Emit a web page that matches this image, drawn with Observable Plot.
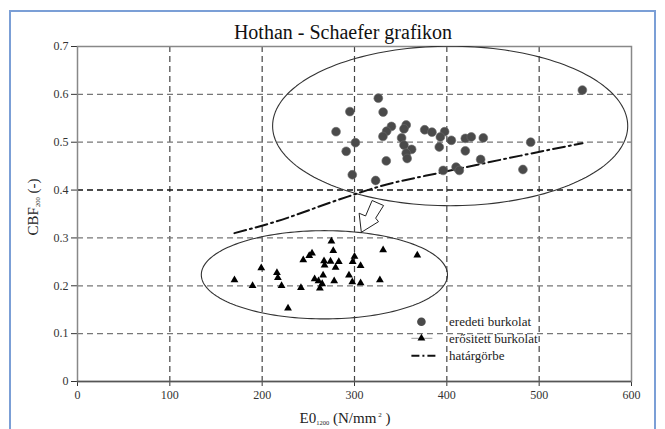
<!DOCTYPE html>
<html><head><meta charset="utf-8">
<script src="https://cdn.jsdelivr.net/npm/d3@7"></script>
<script src="https://cdn.jsdelivr.net/npm/@observablehq/plot@0.6"></script>
<style>
body{margin:0;background:#fff;}
#wrap{position:relative;width:665px;height:429px;overflow:hidden;background:#fff;}
#border{position:absolute;left:9px;top:10px;width:647px;height:440px;border:2px solid #7b9fd6;border-bottom:none;box-sizing:border-box;pointer-events:none;}
#chart svg text{font-family:'Liberation Serif','Times New Roman',serif !important;}
</style></head><body>
<div id="wrap"><div id="chart"></div><div id="border"></div></div>
<script>
// ---- data ----
const eredetiX = [325.8, 295, 331, 280, 340, 334.8, 330.8, 356, 353.6, 376, 383.9, 397.6, 393, 404.9, 420, 426.5, 439.5, 301, 291, 351, 353.6, 361.9, 356, 357, 334.4, 391.8, 420, 436.6, 297.6, 322.9, 396, 410, 413.5, 546.8, 490.8, 482.4];
const eredetiY = [0.592, 0.564, 0.563, 0.522, 0.533, 0.523, 0.512, 0.536, 0.528, 0.526, 0.521, 0.522, 0.511, 0.504, 0.508, 0.511, 0.509, 0.499, 0.481, 0.509, 0.494, 0.485, 0.477, 0.466, 0.461, 0.490, 0.482, 0.464, 0.432, 0.420, 0.441, 0.448, 0.441, 0.609, 0.500, 0.443];
const erositettX = [275, 277, 254, 251, 244.5, 331, 368, 267, 274, 283, 279.5, 267.6, 300, 298, 306.6, 199, 216, 217, 221, 170, 189.6, 242, 256.8, 261, 266, 265, 262.5, 278, 294, 297.6, 306.6, 327.5, 228];
const erositettY = [0.293, 0.273, 0.268, 0.263, 0.254, 0.275, 0.264, 0.252, 0.251, 0.250, 0.238, 0.243, 0.261, 0.250, 0.242, 0.237, 0.227, 0.217, 0.200, 0.212, 0.200, 0.196, 0.214, 0.210, 0.222, 0.204, 0.195, 0.210, 0.222, 0.208, 0.206, 0.212, 0.153];
const hatarX = [170, 213, 283, 328, 397, 480, 547];
const hatarY = [0.31, 0.333, 0.38, 0.408, 0.438, 0.472, 0.498];
// annotation shapes (data units)
const ellipseCx = [403.6, 267.4];
const ellipseCy = [0.534, 0.223];
const ellipseRx = [192.3, 133.3];
const ellipseRy = [0.1667, 0.0922];
const arrowX = [307.4, 305, 312, 319.1, 331.5, 322.9, 326, 307.4];
const arrowY = [0.3117, 0.3516, 0.3459, 0.3782, 0.3677, 0.3413, 0.334, 0.3117];
// ticks & labels
const xTicks = [0, 100, 200, 300, 400, 500, 600];
const yTicks = [0, 0.1, 0.2, 0.3, 0.4, 0.5, 0.6, 0.7];
const gridXv = [100, 200, 300, 400, 500];
const gridYv = [0.1, 0.2, 0.3, 0.5, 0.6];
const titleText = "Hothan - Schaefer grafikon";
const legendLabels = ["eredeti burkolat", "erősitett burkolat", "határgörbe"];

const eredeti = eredetiX.map((x, i) => ({x, y: eredetiY[i]}));
const erositett = erositettX.map((x, i) => ({x, y: erositettY[i]}));
const hatar = hatarX.map((x, i) => ({x, y: hatarY[i]}));
const arrow = arrowX.map((x, i) => ({x, y: arrowY[i]}));
const ellipses = [];
ellipseCx.forEach((cx, k) => {
  for (let j = 0; j <= 180; j++) {
    const t = j / 180 * 2 * Math.PI;
    ellipses.push({k, x: cx + ellipseRx[k] * Math.cos(t), y: ellipseCy[k] + ellipseRy[k] * Math.sin(t)});
  }
});

const serif = "'Liberation Serif', 'Times New Roman', serif";
const plot = Plot.plot({
  width: 665, height: 429,
  marginLeft: 77, marginRight: 34, marginTop: 46, marginBottom: 48,
  style: {fontFamily: serif, fontSize: "12px", color: "#333", background: "transparent"},
  x: {domain: [0, 600], ticks: xTicks, tickSize: 5, tickPadding: 4, label: null},
  y: {domain: [0, 0.7], ticks: yTicks, tickSize: 6, tickPadding: 3, tickFormat: d => d === 0 ? "0" : d.toFixed(1), label: null},
  marks: [
    Plot.ruleX(gridXv, {stroke: "#444", strokeDasharray: "6,4", strokeWidth: 1.2}),
    Plot.ruleY(gridYv, {stroke: "#777", strokeDasharray: "6,4", strokeWidth: 1.2}),
    Plot.ruleY([0.4], {stroke: "#111", strokeDasharray: "6,4", strokeWidth: 1.4}),
    Plot.frame({stroke: "#888", strokeWidth: 1.5}),
    Plot.ruleY([0], {stroke: "#555", strokeWidth: 1.5}),
    Plot.line(ellipses, {x: "x", y: "y", z: "k", stroke: "#333", strokeWidth: 1.1, clip: true}),
    Plot.line(hatar, {x: "x", y: "y", stroke: "#111", strokeWidth: 2, strokeDasharray: "12,4,2,4", curve: "monotone-x"}),
    Plot.line(arrow, {x: "x", y: "y", stroke: "#222", strokeWidth: 1, fill: "#fff"}),
    Plot.dot(eredeti, {x: "x", y: "y", r: 4.4, fill: "#4a4a4a", stroke: "#6a6a6a", strokeWidth: 0.6}),
    Plot.dot(erositett, {x: "x", y: "y", r: 2.9, symbol: "triangle", fill: "#000"})
  ]
});
document.getElementById("chart").appendChild(plot);

const svg = d3.select(plot);
const sx = plot.scale("x");
// title
svg.append("text").attr("x", 343).attr("y", 38.5).attr("text-anchor", "middle")
  .attr("font-size", 20).attr("fill", "#111").text(titleText);
// x label
const xl = svg.append("text").attr("x", 345).attr("y", 423).attr("text-anchor", "middle")
  .attr("font-size", 15).attr("fill", "#222");
xl.append("tspan").text("E0");
xl.append("tspan").attr("font-size", 6.5).attr("dy", 2).text("1200");
xl.append("tspan").attr("dy", -2).text(" (N/mm");
xl.append("tspan").attr("font-size", 7).attr("dy", -6).text(" 2");
xl.append("tspan").attr("dy", 6).text(" )");
// y label
const yl = svg.append("text").attr("transform", "translate(38,207) rotate(-90)").attr("text-anchor", "middle")
  .attr("font-size", 15).attr("fill", "#222");
yl.append("tspan").text("CBF");
yl.append("tspan").attr("font-size", 6.5).attr("dy", 2).text("200");
yl.append("tspan").attr("dy", -2).text(" (-)");
// legend
const lx = sx.apply(373), tx = sx.apply(403);
const ly = [321.7, 338.3, 355.7];
const lg = svg.append("g").attr("font-size", 13).attr("fill", "#222").attr("text-anchor", "start");
lg.append("circle").attr("cx", lx).attr("cy", ly[0]).attr("r", 4.3).attr("fill", "#4a4a4a");
lg.append("line").attr("x1", lx - 10).attr("x2", lx + 11).attr("y1", ly[1]).attr("y2", ly[1]).attr("stroke", "#999");
lg.append("path").attr("transform", `translate(${lx},${ly[1]})`).attr("d", d3.symbol(d3.symbolTriangle, Math.PI * 2.9 * 2.9)()).attr("fill", "#000");
lg.append("line").attr("x1", lx - 10).attr("x2", lx + 15).attr("y1", ly[2]).attr("y2", ly[2]).attr("stroke", "#111").attr("stroke-width", 2).attr("stroke-dasharray", "8,3,2,3");
legendLabels.forEach((t, i) => lg.append("text").attr("x", tx).attr("y", ly[i] + 4.5).attr("text-anchor", "start").text(t));
</script>
</body></html>
